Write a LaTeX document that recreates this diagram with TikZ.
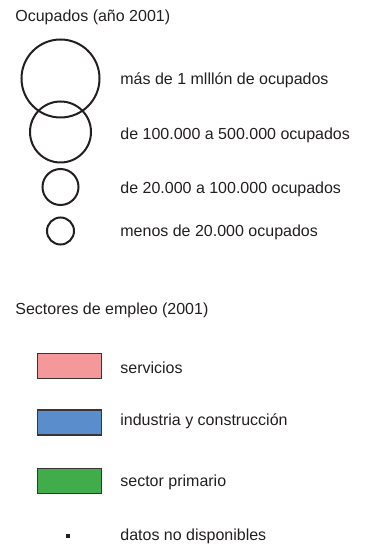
\documentclass[tikz,border=0pt]{standalone}
\usepackage{fontspec}
\setmainfont{Liberation Sans}
\usepackage{tikz}
\usetikzlibrary{positioning}
\definecolor{ink}{RGB}{35, 31, 32}
\definecolor{pink}{RGB}{244, 152, 154}
\definecolor{blue}{RGB}{90, 141, 203}
\definecolor{green}{RGB}{64, 173, 74}
\tikzset{
    ring/.style = {
      circle,
      draw=ink,
      line width=1pt,
      inner sep=0pt
    },
    swatch/.style = {
      rectangle,
      draw=ink!90,
      line width=0.6pt,
      minimum width=32pt,
      minimum height=12.5pt,
      inner sep=0pt
    },
    legend/.style = {
      anchor=west,
      inner sep=0pt,
      text=ink,
      font=\fontsize{8}{9.6}\selectfont
    },
}
\begin{document}
\begin{tikzpicture}[
        x=0.5pt,
        y=-0.5pt
      ]
        \useasboundingbox (0,0) rectangle (364,544);

        % circle sizes
        \node[legend] (ocupados) at (15,17) {Ocupados (año 2001)};

        \node[ring, minimum size=39pt] (big) at (60.5,78.5) {};
        \node[ring, minimum size=30.5pt] (mid) at (60.5,132) {};
        \node[ring, minimum size=18pt] (small) at (60.5,187) {};
        \node[ring, minimum size=13.5pt] (tiny) at (60.5,231) {};

        \node[legend] (bigtext) at (120,80) {más de 1 mlllón de ocupados};
        \node[legend] (midtext) at (120,135) {de 100.000 a 500.000 ocupados};
        \node[legend] (smalltext) at (120,189) {de 20.000 a 100.000 ocupados};
        \node[legend] (tinytext) at (120,232) {menos de 20.000 ocupados};

        % sectors
        \node[legend] (sectores) at (15,310) {Sectores de empleo (2001)};

        \node[swatch, fill=pink] (servicios) at (69.5,366) {};
        \node[swatch, fill=blue] (industria) at (69.5,422.5) {};
        \node[swatch, fill=green] (primario) at (69.5,481) {};
        \node[rectangle, fill=ink, minimum size=2pt, inner sep=0pt] (nodata) at (68,536) {};

        \node[legend] (serviciostext) at (120,368) {servicios};
        \node[legend] (industriatext) at (120,421) {industria y construcción};
        \node[legend] (primariotext) at (120,482) {sector primario};
        \node[legend] (nodatatext) at (120,536) {datos no disponibles};
      \end{tikzpicture}
\end{document}
